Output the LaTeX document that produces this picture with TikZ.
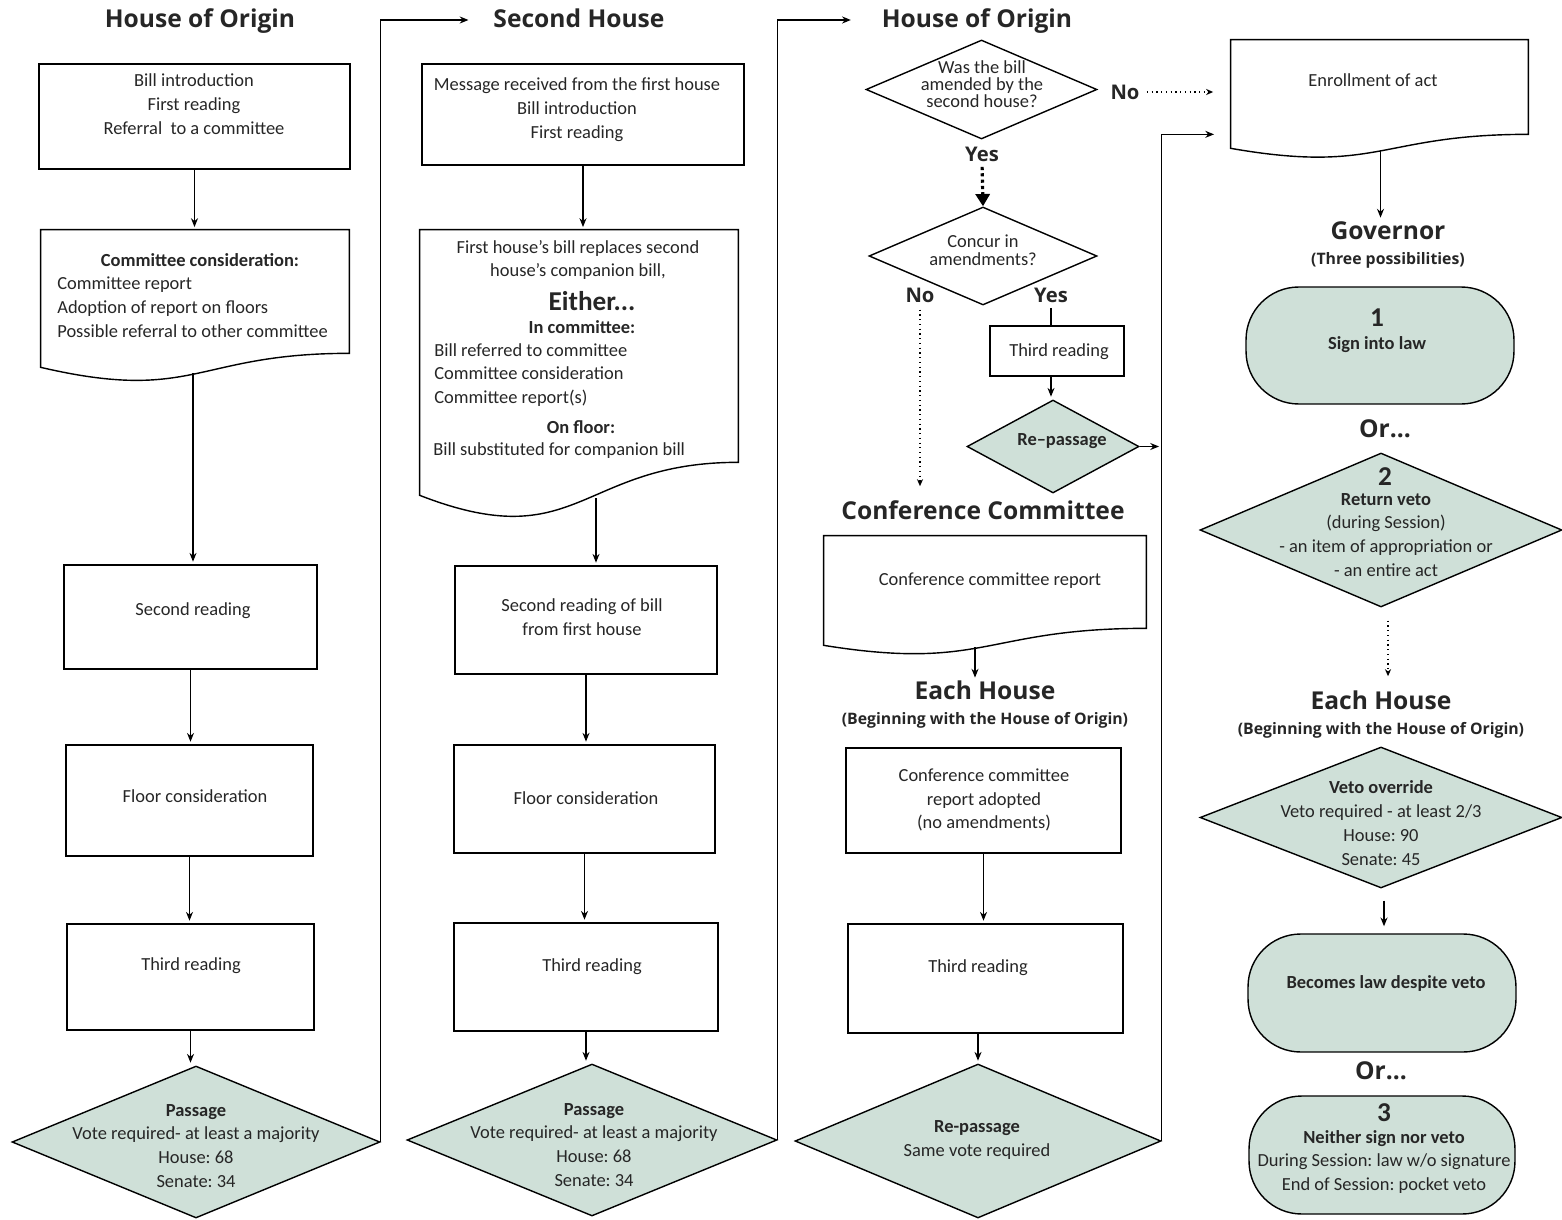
\documentclass[tikz,border=0pt]{standalone}
\usepackage{fontspec}
\setmainfont{Carlito}
\newfontfamily\headfont{Open Sans}
\usetikzlibrary{positioning, arrows.meta, calc, shapes.geometric, shapes.misc}
\definecolor{vetogreen}{RGB}{207,224,216}
\definecolor{inkgray}{RGB}{38,38,38}
\frenchspacing
\newcommand{\bodyfont}{\fontsize{10.5}{13.6}\selectfont}
% document shape: node gives top edge and right side, #2 = extra drop on the left, #3 = curve depth
\newcommand{\docshape}[3]{%
  \draw[line width=0.8pt] (#1.north west) -- (#1.north east) -- (#1.south east)
    .. controls (#1.south) and ($(#1.south)+(0,#3)$) .. ($(#1.south west)+(0,#2)$) -- cycle;}

\begin{document}
\begin{tikzpicture}[
  x=0.02cm, y=-0.02cm,
  box/.style={rectangle, draw, line width=0.8pt, inner sep=0pt},
  docarea/.style={rectangle, inner sep=0pt},
  dec/.style={diamond, draw, line width=0.8pt, inner sep=0pt},
  govdec/.style={dec, fill=vetogreen},
  term/.style={rectangle, rounded corners=30pt, draw, fill=vetogreen, line width=0.8pt, inner sep=0pt},
  txt/.style={font=\bodyfont, align=center, inner sep=0pt, text=inkgray},
  bld/.style={txt, font=\bodyfont\bfseries},
  num/.style={txt, font=\fontsize{15.5}{18}\selectfont\bfseries},
  head/.style={font=\headfont\bfseries\fontsize{14}{16}\selectfont, inner sep=0pt, text=inkgray, text height=10.5pt, text depth=2.5pt},
  subhead/.style={font=\headfont\bfseries\fontsize{9}{11}\selectfont, inner sep=0pt, text=inkgray},
  answer/.style={font=\headfont\bfseries\fontsize{11.5}{13}\selectfont, inner sep=0pt, text=inkgray},
  flow/.style={-{Stealth[length=5pt,width=4pt]}, line width=0.7pt, shorten >=1.5pt},
  link/.style={line width=0.7pt},
  maybe/.style={dotted, line width=0.7pt, -{Stealth[length=4pt,width=3.5pt]}},
  yesflow/.style={line width=1.8pt, dash pattern=on 1.8pt off 1.8pt, -{Triangle[length=7pt,width=8pt]}},
  >=Stealth
]
\useasboundingbox (0,0) rectangle (1562,1220);

% house of origin
\node[head] (h1) at (200,20) {House of Origin};
\node[box, minimum width=6.22cm, minimum height=2.1cm] (intro1) at (194.5,116.5) {};
\node[txt] (intro1t) at (194,104) {Bill introduction\\First reading\\Referral\ \ to a committee};
\node[docarea, minimum width=6.16cm, minimum height=2.46cm] (comm1) at (195,291.5) {};
\docshape{comm1}{14}{50}
\coordinate (comm1b) at ($(comm1.south)+(-2,20)$);
\node[bld] (comm1h) at (200,260) {Committee consideration:};
\node[txt, align=left, anchor=west] (comm1t) at (57,307) {Committee report\\Adoption of report on floors\\Possible referral to other committee};
\node[box, minimum width=5.06cm, minimum height=2.08cm] (sec1) at (190.5,617) {};
\node[txt] (sec1t) at (193,611) {Second reading};
\node[box, minimum width=4.94cm, minimum height=2.22cm] (floor1) at (189.5,800.5) {};
\node[txt] (floor1t) at (195,796) {Floor consideration};
\node[box, minimum width=4.94cm, minimum height=2.12cm] (third1) at (190.5,977) {};
\node[txt] (third1t) at (191,966) {Third reading};
\node[govdec, minimum width=7.36cm, minimum height=3.04cm] (pass1) at (196,1142) {};
\node[txt] (pass1t) at (196,1146) {\textbf{Passage}\\Vote required- at least a majority\\House: 68\\Senate: 34};

% second house
\node[head] (h2) at (579,20) {Second House};
\node[box, minimum width=6.44cm, minimum height=2.02cm] (msg2) at (583,114.5) {};
\node[txt] (msg2t) at (577,110) {Message received from the first house\\Bill introduction\\First reading};
\node[docarea, minimum width=6.36cm, minimum height=4.64cm] (sub2) at (579,346) {};
\docshape{sub2}{33}{95}
\coordinate (sub2b) at ($(sub2.south)+(17,36)$);
\node[txt] (sub2a) at (578,260) {First house’s bill replaces second\\house’s companion bill,};
\node[num] (sub2e) at (592,301) {Either...};
\node[bld] (sub2c) at (582,327) {In committee:};
\node[txt, align=left, anchor=west] (sub2l) at (434,375) {Bill referred to committee\\Committee consideration\\Committee report(s)};
\node[bld] (sub2f) at (581,427) {On floor:};
\node[txt, anchor=west] (sub2s) at (433,451) {Bill substituted for companion bill};
\node[box, minimum width=5.24cm, minimum height=2.16cm] (sec2) at (586,620) {};
\node[txt] (sec2t) at (582,617.5) {Second reading of bill\\from first house};
\node[box, minimum width=5.22cm, minimum height=2.16cm] (floor2) at (584.5,799) {};
\node[txt] (floor2t) at (586,798) {Floor consideration};
\node[box, minimum width=5.28cm, minimum height=2.16cm] (third2) at (586,977) {};
\node[txt] (third2t) at (592,967) {Third reading};
\node[govdec, minimum width=7.4cm, minimum height=3.04cm] (pass2) at (592,1140) {};
\node[txt] (pass2t) at (594,1145) {\textbf{Passage}\\Vote required- at least a majority\\House: 68\\Senate: 34};

% back in the house of origin
\node[head] (h3) at (977,20) {House of Origin};
\node[dec, minimum width=4.62cm, minimum height=1.98cm] (amend) at (981.5,89.5) {};
\node[txt, font=\fontsize{10.5}{9.8}\selectfont] (amendt) at (982,84) {Was the bill\\amended by the\\second house?};
\node[answer] (no1) at (1125,92) {No};
\node[answer] (yes1) at (982,154) {Yes};
\node[dec, minimum width=4.56cm, minimum height=1.96cm] (concur) at (983,256) {};
\node[txt, font=\fontsize{10.5}{10.2}\selectfont] (concurt) at (983,250) {Concur in\\amendments?};
\node[answer] (no2) at (920,295) {No};
\node[answer] (yes2) at (1051,295) {Yes};
\node[box, minimum width=2.68cm, minimum height=1cm] (third3) at (1057,351) {};
\node[txt] (third3t) at (1059,352) {Third reading};
\node[govdec, minimum width=3.44cm, minimum height=1.86cm] (rep1) at (1053,446.5) {};
\node[bld] (rep1t) at (1062,441) {Re–passage};
\node[head] (conf) at (983,512) {Conference Committee};
\node[docarea, minimum width=6.44cm, minimum height=1.84cm] (crep) at (985,582) {};
\docshape{crep}{17}{43}
\coordinate (crepb) at ($(crep.south)+(-10,19)$);
\node[txt] (crept) at (990,581) {Conference committee report};
\node[head] (each1) at (985,692) {Each House};
\node[subhead] (each1s) at (985,720) {(Beginning with the House of Origin)};
\node[box, minimum width=5.5cm, minimum height=2.1cm] (adopt) at (983.5,800.5) {};
\node[txt] (adoptt) at (984,800) {Conference committee\\report adopted\\(no amendments)};
\node[box, minimum width=5.5cm, minimum height=2.18cm] (third4) at (985.5,978.5) {};
\node[txt] (third4t) at (978,968) {Third reading};
\node[govdec, minimum width=7.32cm, minimum height=3.08cm] (rep2) at (978,1141) {};
\node[txt] (rep2t) at (977,1140) {\textbf{Re-passage}\\Same vote required};

% governor
\node[docarea, minimum width=5.94cm, minimum height=1.88cm] (enroll) at (1379.5,87) {};
\docshape{enroll}{14}{40}
\coordinate (enrollb) at ($(enroll.south)+(1,17)$);
\node[txt] (enrollt) at (1373,80) {Enrollment of act};
\node[head] (gov) at (1388,232) {Governor};
\node[subhead] (govs) at (1388,260) {(Three possibilities)};
\node[term, minimum width=5.36cm, minimum height=2.34cm] (sign) at (1380,345.5) {};
\node[num] (signnum) at (1377,318) {1};
\node[bld] (signt) at (1377,345) {Sign into law};
\node[head] (or1) at (1385,430) {Or...};
\node[govdec, minimum width=7.24cm, minimum height=3.08cm] (veto) at (1381,530) {};
\coordinate (vetob) at ($(veto.south)+(7,13)$);
\node[num] (vetonum) at (1385,477) {2};
\node[txt] (vetot) at (1386,535) {\textbf{Return veto}\\(during Session)\\- an item of appropriation or\\- an entire act};
\node[head] (each2) at (1381,702) {Each House};
\node[subhead] (each2s) at (1381,730) {(Beginning with the House of Origin)};
\node[govdec, minimum width=7.24cm, minimum height=2.82cm] (override) at (1381,817.5) {};
\coordinate (overb) at ($(override.south)+(3,12)$);
\node[txt] (overridet) at (1381,823) {\textbf{Veto override}\\Veto required - at least 2/3\\House: 90\\Senate: 45};
\node[term, minimum width=5.36cm, minimum height=2.36cm] (law) at (1382,993) {};
\node[bld] (lawt) at (1386,983) {Becomes law despite veto};
\node[head] (or2) at (1381,1072) {Or...};
\node[term, minimum width=5.32cm, minimum height=2.36cm] (neither) at (1382,1155) {};
\node[num] (neithernum) at (1384,1113) {3};
\node[txt] (neithert) at (1384,1162) {\textbf{Neither sign nor veto}\\During Session: law w/o signature\\End of Session: pocket veto};

% connectors
\draw[flow] (intro1.south) -- (intro1.south |- comm1.north);
\draw[flow] (comm1b) -- (comm1b |- sec1.north);
\draw[flow] (sec1.south) -- (sec1.south |- floor1.north);
\draw[flow] (floor1.south) -- (floor1.south |- third1.north);
\draw[flow] (third1.south) -- (third1.south |- pass1.north);
\draw[flow] (pass1.east) |- ($(h2.west)+(-22,0)$);

\draw[flow] (msg2.south) -- (msg2.south |- sub2.north);
\draw[flow] (sub2b) -- (sub2b |- sec2.north);
\draw[flow] (sec2.south) -- (sec2.south |- floor2.north);
\draw[flow] (floor2.south) -- (floor2.south |- third2.north);
\draw[flow] (third2.south) -- (third2.south |- pass2.north);
\draw[flow] (pass2.east) |- ($(h3.west)+(-28,0)$);

\draw[maybe, shorten <=4pt, shorten >=10pt] (no1.east) -- (no1.east -| enroll.west);
\draw[yesflow, shorten <=3pt] (yes1.south) -- (concur.north);
\draw[maybe, shorten <=4pt, shorten >=8pt] (no2.south) -- (no2.south |- conf.north);
\draw[link, shorten <=3pt] (yes2.south) -- (yes2.south |- third3.north);
\draw[flow] (yes2.south |- third3.south) -- (yes2.south |- rep1.north);
\draw[flow] (rep1.east) -- (rep1.east -| rep2.east);
\draw[flow] (rep2.east) |- ($(enroll.south west)+(-14,0)$);
\draw[flow] (crepb) -- (crepb |- each1.north);
\draw[flow] (adopt.south) -- (adopt.south |- third4.north);
\draw[flow] (rep2.north |- third4.south) -- (rep2.north);

\draw[flow] (enrollb) -- (enrollb |- gov.north);
\draw[maybe, shorten >=8pt] (vetob) -- (vetob |- each2.north);
\draw[flow, shorten >=4pt] (overb) -- (overb |- law.north);
\end{tikzpicture}
\end{document}
